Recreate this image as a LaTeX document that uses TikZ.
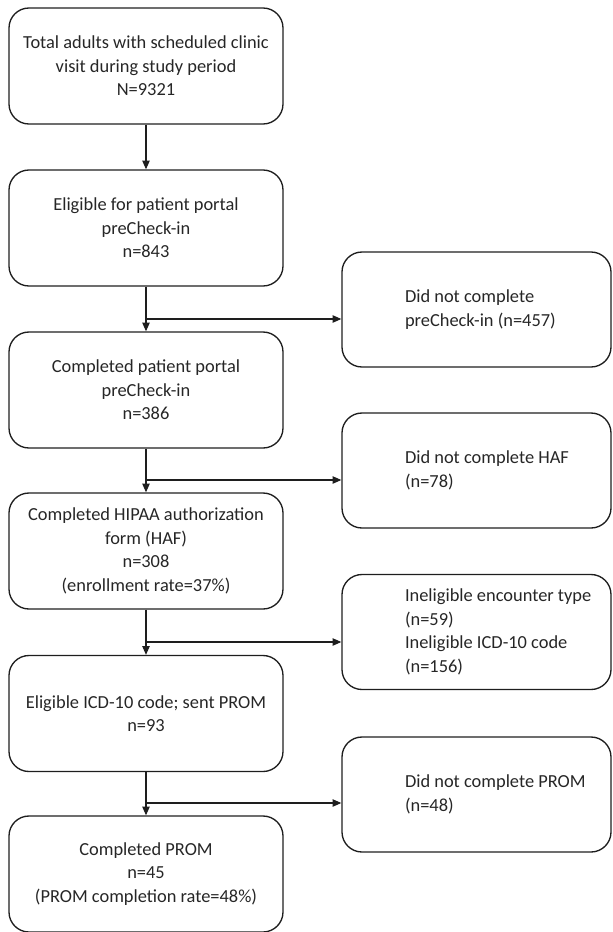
\documentclass[tikz,border=0pt]{standalone}
\usepackage{fontspec}
\setmainfont{Carlito}
\usetikzlibrary{arrows.meta,positioning,calc}
\definecolor{textdark}{HTML}{262626}
\definecolor{linedark}{HTML}{1E1E1E}
\tikzset{
  >=Latex,
  flowbox/.style={
    rectangle, rounded corners=15pt, draw=linedark, line width=1pt,
    minimum width=205.5pt, minimum height=87pt, align=center,
    font=\fontsize{13.8}{17.6}\selectfont, text=textdark
  },
  sidebox/.style={
    rectangle, rounded corners=15pt, draw=linedark, line width=1pt,
    minimum width=201.75pt, minimum height=86.25pt
  },
  sidetext/.style={
    text width=150pt, align=flush left, inner sep=0pt, xshift=21.4pt,
    font=\fontsize{13.8}{17.6}\selectfont, text=textdark
  },
  arrow/.style={-{Triangle[length=6.5pt,width=5.5pt]}, line width=0.8pt, draw=linedark}
}
\begin{document}
\begin{tikzpicture}[x=0.75pt,y=-0.75pt]
\useasboundingbox (0,0) rectangle (612,932);
% main column
\node[flowbox] (total) at (146,66) {Total adults with scheduled clinic\\visit during study period\\N=9321};
\node[flowbox] (elig) at (146,228) {Eligible for patient portal\\preCheck-in\\n=843};
\node[flowbox] (prechk) at (146,390) {Completed patient portal\\preCheck-in\\n=386};
\node[flowbox] (haf) at (146,551) {Completed HIPAA authorization\\form (HAF)\\n=308\\(enrollment rate=37\%)};
\node[flowbox] (sent) at (146,713.5) {Eligible ICD-10 code; sent PROM\\n=93};
\node[flowbox] (prom) at (146,874) {Completed PROM\\n=45\\(PROM completion rate=48\%)};
% exclusions
\node[sidebox, label={[sidetext]center:Did not complete\\preCheck-in (n=457)}] (nopre) at (476.5,309.5) {};
\node[sidebox, label={[sidetext]center:Did not complete HAF\\(n=78)}] (nohaf) at (476.5,470.5) {};
\node[sidebox, label={[sidetext]center:Ineligible encounter type\\(n=59)\\Ineligible ICD-10 code\\(n=156)}] (inel) at (476.5,632) {};
\node[sidebox, label={[sidetext]center:Did not complete PROM\\(n=48)}] (noprom) at (476.5,794.5) {};
% branch points
\coordinate (j1) at (146,319);
\coordinate (j2) at (146,480);
\coordinate (j3) at (146,642);
\coordinate (j4) at (146,803);
\draw[arrow] (total) -- (elig);
\draw[arrow] (elig) -- (prechk);
\draw[arrow] (prechk) -- (haf);
\draw[arrow] (haf) -- (sent);
\draw[arrow] (sent) -- (prom);
\draw[arrow] (j1) -- (j1 -| nopre.west);
\draw[arrow] (j2) -- (j2 -| nohaf.west);
\draw[arrow] (j3) -- (j3 -| inel.west);
\draw[arrow] (j4) -- (j4 -| noprom.west);
\end{tikzpicture}
\end{document}
